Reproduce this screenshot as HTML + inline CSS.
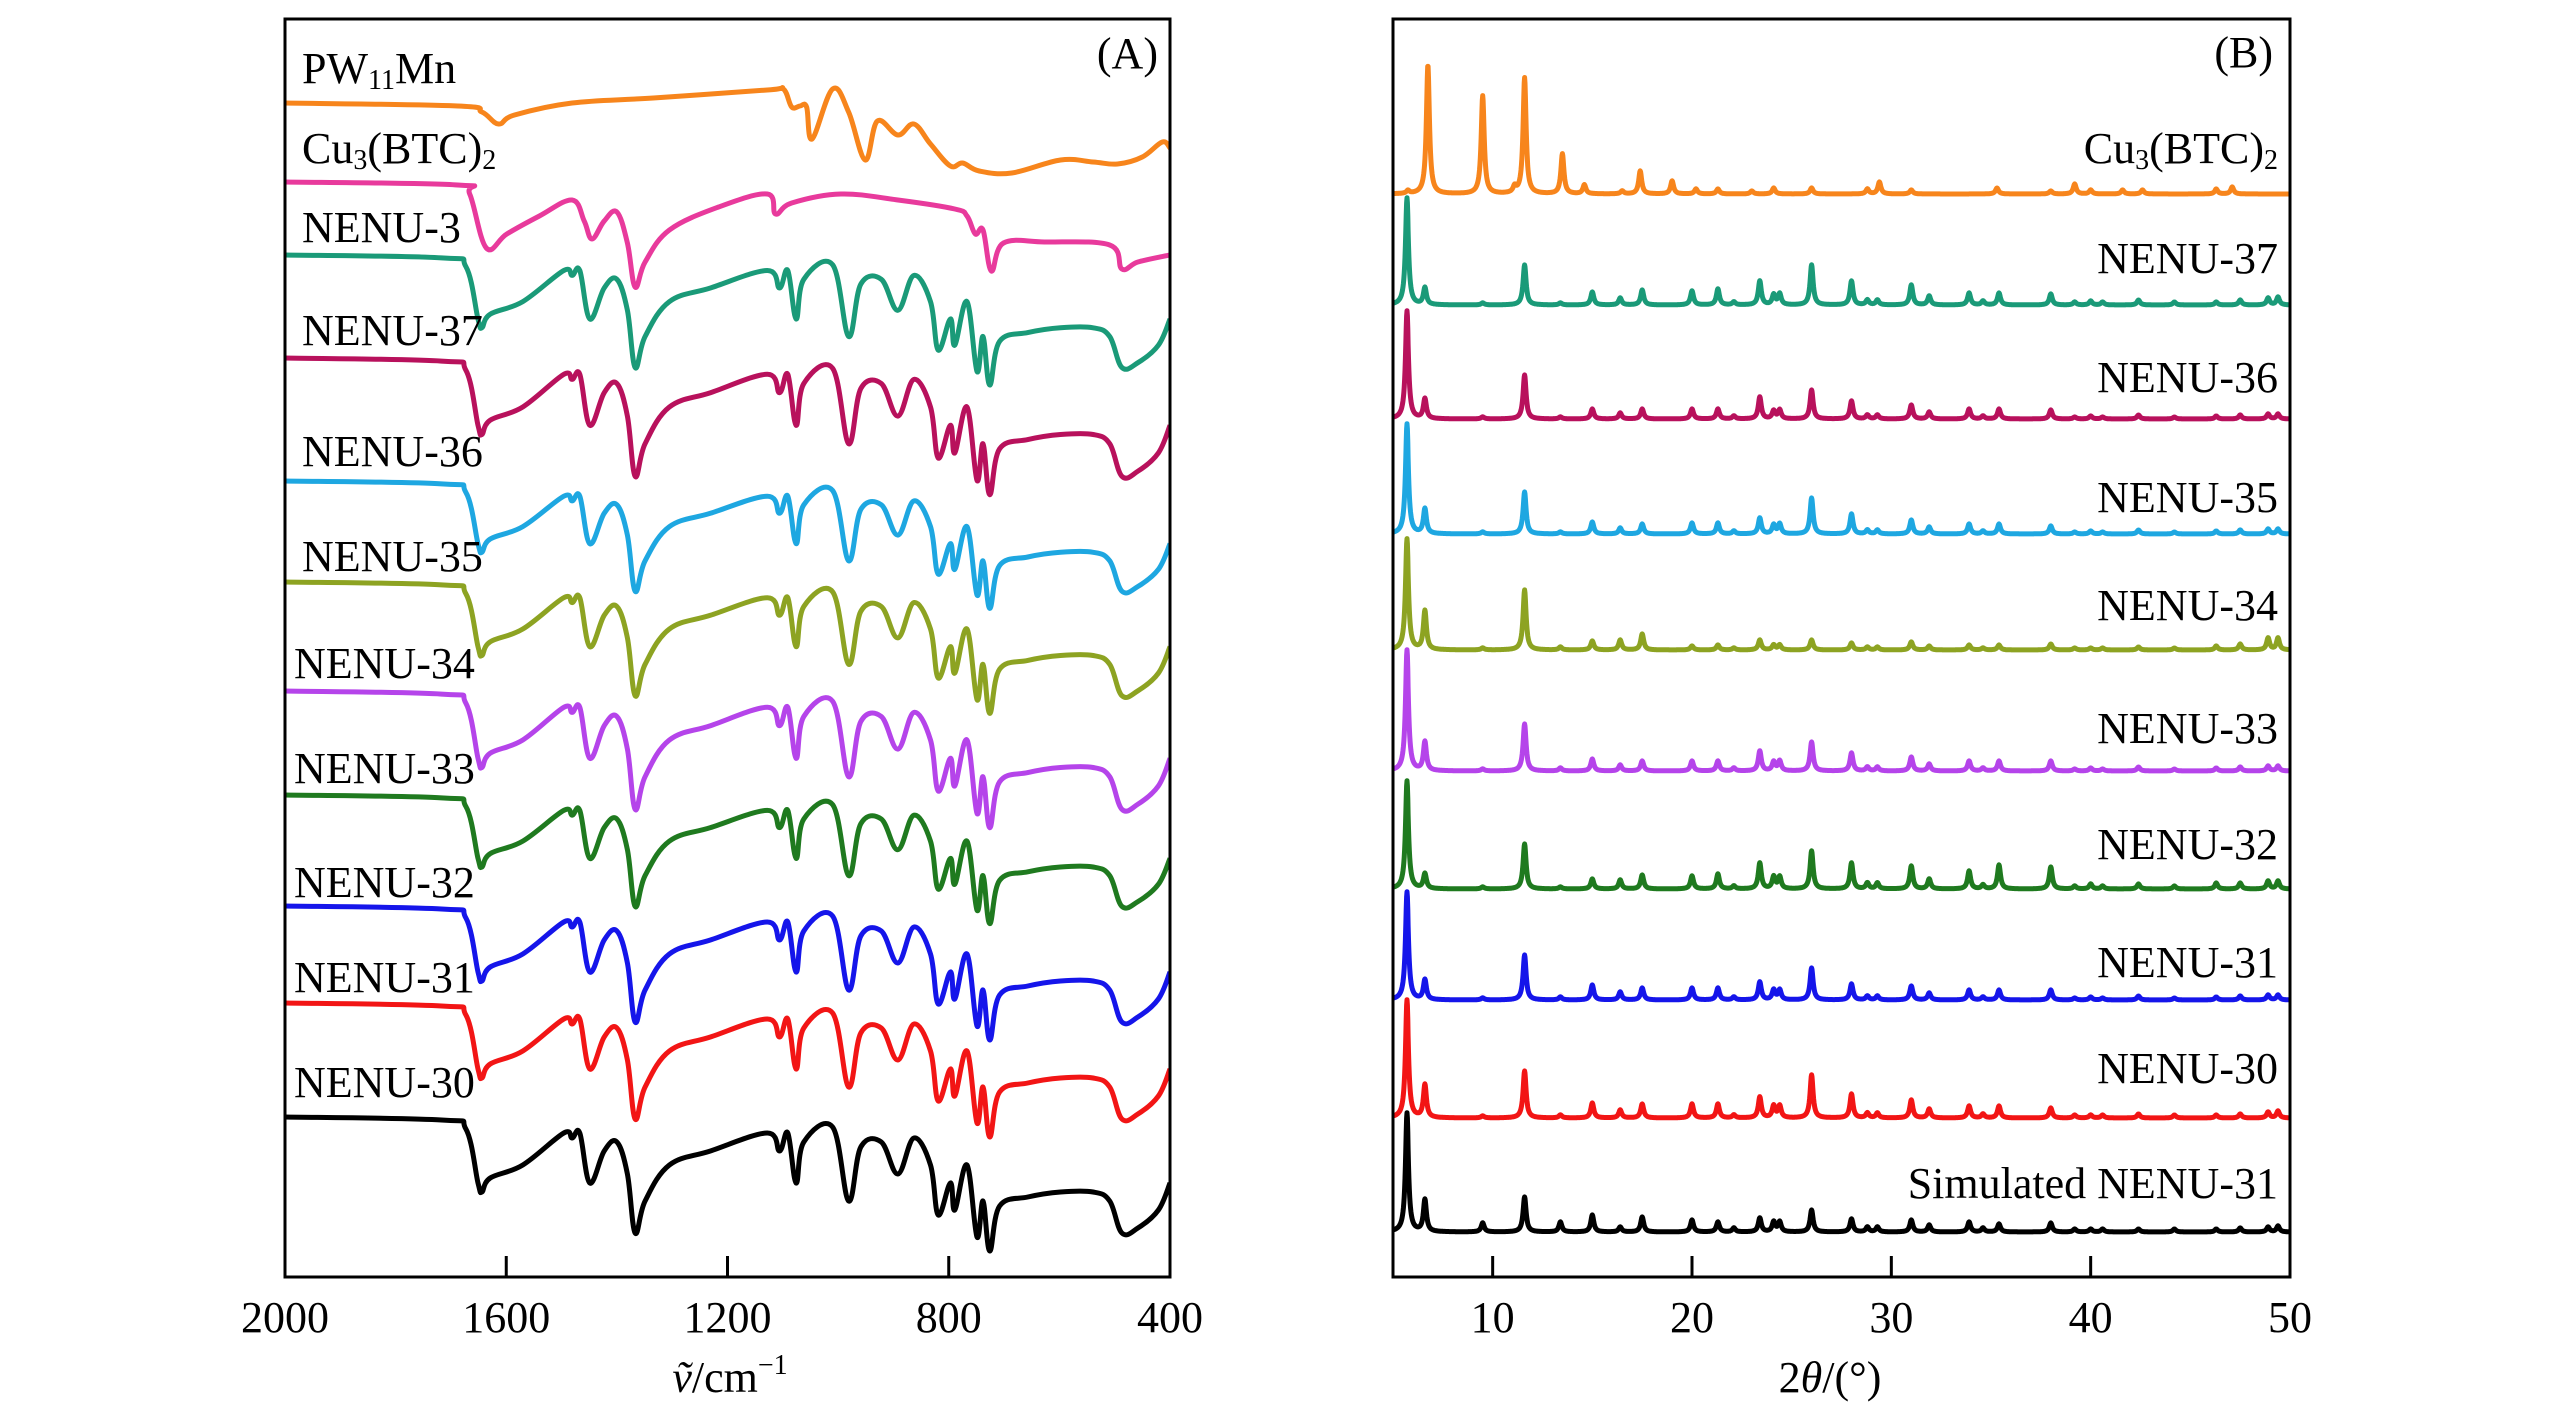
<!DOCTYPE html>
<html><head><meta charset="utf-8"><title>IR and XRD</title>
<style>
html,body{margin:0;padding:0;background:#fff;}
svg{display:block;}
text{font-family:"Liberation Serif","DejaVu Serif",serif;fill:#000;}
</style></head>
<body>
<svg id="fig" width="2567" height="1417" viewBox="0 0 2567 1417" xmlns="http://www.w3.org/2000/svg">
<rect x="0" y="0" width="2567" height="1417" fill="#fff"/>
<g id="panelA"></g>
<g id="panelB"></g>
</svg>
<script>
// ---------- Panel A data (IR) ----------
const irTicks = [2000, 1600, 1200, 800, 400];
const nenuWn = [2000,1717,1673,1651,1644,1629,1570,1496,1481,1467,1449,1423,1400,1381,1367,1349,1305,1231,1128,1106,1091,1076,1062,1010,981,959,922,892,863,833,819,797,789,767,749,738,726,708,657,598,539,509,487,458,421,400];
const nenuDepth = [0,3,12,66,75,61,48,16,21,16,66,34,25,57,116,84,48,34,16,34,16,66,25,10,84,30,25,57,21,48,98,66,93,48,120,84,134,89,80,75,75,84,116,111,93,66];
const nenu3Wn = [2000,1688,1666,1636,1599,1540,1481,1459,1445,1423,1400,1381,1367,1349,1305,1216,1128,1113,1084,995,892,789,767,752,738,723,701,627,509,487,458,400];
const nenu3Depth = [0,3,12,66,52,34,18,39,57,39,30,61,105,80,48,25,12,32,21,12,18,27,34,52,48,89,61,60,63,87,80,73];
const pwWn = [2000,1688,1644,1614,1585,1481,1334,1128,1099,1084,1069,1057,1047,1010,981,951,929,892,863,833,797,775,745,686,598,539,495,450,414,400];
const pwDepth = [0,3,9,21,12,0,-5,-13,-14,4,3,4,36,-14,9,57,18,32,21,41,63,60,68,70,57,59,61,54,39,45];
const irNenuNames = ["NENU-37","NENU-36","NENU-35","NENU-34","NENU-33","NENU-32","NENU-31","NENU-30","NENU-30-black"];
const irNenuOffsets = [236,339,462,563,672,776,887,984,1098];
const irNenuScale = [0.97,1.02,0.95,0.98,1.02,0.96,1.0,1.0,1.0];
const irPwOffset = 84;
const irNenu3Offset = 163;

// ---------- Panel B data (XRD) ----------
const xrdTicks = [10,20,30,40,50];
const nenuPeaks = [5.7,6.6,9.5,11.6,13.4,15.0,16.4,17.5,20.0,21.3,22.1,23.4,24.1,24.4,26.0,28.0,28.8,29.3,31.0,31.9,33.9,34.6,35.4,38.0,39.2,40.0,40.6,42.4,44.2,46.3,47.5,48.9,49.4];
const hTeal    = [107,17,2,40,2,13,7,15,14,16,3,24,10,11,40,24,5,5,20,9,12,4,12,11,3,4,3,5,3,3,5,7,8];
const hCrimson = [108,20,2,44,2,10,6,10,10,10,3,22,8,9,29,18,4,4,14,7,10,3,10,9,2,3,2,4,2,3,4,5,5];
const hSky     = [110,25,2,42,2,12,6,10,11,11,3,16,9,10,36,20,4,4,14,7,10,3,10,8,2,3,2,4,2,3,4,5,5];
const hOlive   = [111,39,2,60,3,9,10,16,4,5,2,10,5,5,10,7,3,3,8,4,5,2,5,6,2,2,2,3,2,4,6,12,12];
const hPurple  = [121,29,2,47,3,12,6,10,10,10,3,20,9,10,29,18,4,4,14,7,10,3,10,10,2,3,2,4,2,3,4,5,5];
const hGreen   = [108,15,2,45,2,10,9,14,13,15,3,26,12,12,38,26,6,6,23,10,18,4,24,22,3,5,3,5,3,6,6,8,8];
const hBlue    = [108,20,2,45,3,15,8,12,12,12,3,18,10,10,32,16,4,4,14,7,10,3,10,10,2,3,2,4,2,3,4,5,5];
const hRed     = [118,33,2,47,3,15,8,14,14,14,3,21,12,12,43,24,5,5,18,9,12,4,12,10,3,3,3,4,3,3,4,6,7];
const hBlack   = [119,32,9,35,10,17,5,15,12,10,4,14,10,10,22,13,5,5,12,7,10,4,8,9,3,3,3,3,3,3,4,5,6];
const cuPeaks   = [5.75,6.75,9.5,11.1,11.6,13.5,14.6,16.5,17.4,19.0,20.2,21.3,23.0,24.1,26.0,28.8,29.4,31.0,35.3,38.0,39.2,40.0,41.6,42.6,46.3,47.1];
const cuHeights = [3,129,98,6,116,40,9,3,23,13,5,5,3,6,6,5,12,4,6,3,10,4,4,4,5,7];
const xrdNames = ["Cu3(BTC)2","NENU-37","NENU-36","NENU-35","NENU-34","NENU-33","NENU-32","NENU-31","NENU-30","Simulated NENU-31"];
const xrdBaselines = [175,286,400,515,631,752,870,981,1099,1213];

// ---------- helpers ----------
const NS = "http://www.w3.org/2000/svg";
function mk(tag, attrs, parent){const e=document.createElementNS(NS,tag);for(const k in attrs)e.setAttribute(k,attrs[k]);parent.appendChild(e);return e;}

const A = {l:285,r:1170,t:19,b:1277};
const xA = wn => A.l + (2000-wn)/1600*(A.r-A.l);
const yA = v => A.t + v;
const B = {l:1393,r:2290,t:19,b:1277};
const xB = t => B.l + (t-5)/45*(B.r-B.l);
const yB = v => B.t + v;

const gA = document.getElementById('panelA');
const gB = document.getElementById('panelB');
const ca = mk('clipPath',{id:'clipA'},gA);
mk('rect',{x:A.l,y:A.t,width:A.r-A.l,height:A.b-A.t},ca);
const cb = mk('clipPath',{id:'clipB'},gB);
mk('rect',{x:B.l,y:B.t,width:B.r-B.l,height:B.b-B.t},cb);

function irPath(wns, depths, off, scale){
  const pts = wns.map((w,i)=>[xA(w), yA(off+depths[i]*scale)]);
  let d='M'+pts[0][0].toFixed(1)+','+pts[0][1].toFixed(1);
  const k=0.18;
  for(let i=0;i<pts.length-1;i++){
    const p0=pts[Math.max(0,i-1)], p1=pts[i], p2=pts[i+1], p3=pts[Math.min(pts.length-1,i+2)];
    const c1=[p1[0]+(p2[0]-p0[0])*k, p1[1]+(p2[1]-p0[1])*k];
    const c2=[p2[0]-(p3[0]-p1[0])*k, p2[1]-(p3[1]-p1[1])*k];
    d+='C'+c1[0].toFixed(1)+','+c1[1].toFixed(1)+' '+c2[0].toFixed(1)+','+c2[1].toFixed(1)+' '+p2[0].toFixed(1)+','+p2[1].toFixed(1);
  }
  return d;
}
const irColors = ['#1a9a78','#b8115c','#1ea7e1','#8da322','#b544ea','#1f7a1f','#1515ea','#f21515','#000000'];
const tracesA = mk('g',{'clip-path':'url(#clipA)'},gA);


let p = mk('path',{d:irPath(pwWn,pwDepth,irPwOffset,1),fill:'none',stroke:'#f7851c','stroke-width':5,'stroke-linejoin':'round'},tracesA);


p = mk('path',{d:irPath(nenu3Wn,nenu3Depth,irNenu3Offset,1),fill:'none',stroke:'#e83a9c','stroke-width':5,'stroke-linejoin':'round'},tracesA);


for(let i=0;i<irNenuOffsets.length;i++){
  const e = mk('path',{d:irPath(nenuWn,nenuDepth,irNenuOffsets[i],irNenuScale[i]),fill:'none',stroke:irColors[i],'stroke-width':5,'stroke-linejoin':'round'},tracesA);
  
  
}
let fr = mk('rect',{x:A.l,y:A.t,width:A.r-A.l,height:A.b-A.t,fill:'none',stroke:'#000','stroke-width':3},gA);


irTicks.forEach(t=>{
  const x=xA(t);
  if(t!==2000 && t!==400){
    const tk=mk('line',{x1:x,x2:x,y1:A.b,y2:A.b-21,stroke:'#000','stroke-width':3},gA);
    
    
  }
  const lb=mk('text',{x:x,y:1332,'text-anchor':'middle','font-size':44},gA);
  lb.textContent=t;
  
  
});

function label(g,x,y,anchor,parts,name){
  const t=mk('text',{x:x,y:y,'text-anchor':anchor,'font-size':44},g);
  parts.forEach(pt=>{
    const s=document.createElementNS(NS,'tspan');
    if(pt[1]){s.setAttribute('font-size',28);s.setAttribute('dy',pt[2]);}
    else if(pt[2]){s.setAttribute('dy',pt[2]);}
    s.textContent=pt[0];t.appendChild(s);
  });
  
  
  return t;
}
label(gA,302,83,'start',[['PW'],['11',1,6],['Mn',0,-6]],'label-pw11mn');
label(gA,302,163,'start',[['Cu'],['3',1,6],['(BTC)',0,-6],['2',1,6]],'label-cu3btc2');
const aLabels=[['NENU-3',302,242],['NENU-37',302,345],['NENU-36',302,466],['NENU-35',302,571],['NENU-34',294,678],['NENU-33',294,783],['NENU-32',294,897],['NENU-31',294,992],['NENU-30',294,1097]];
aLabels.forEach(l=>label(gA,l[1],l[2],'start',[[l[0]]],'ir-label-'+l[0].toLowerCase()));
label(gA,1158,68,'end',[['(A)']],'panel-a-tag');
let xt=mk('text',{x:730,y:1392,'text-anchor':'middle','font-size':44},gA);
xt.innerHTML='<tspan font-style="italic">ṽ</tspan>/cm<tspan font-size="28" dy="-18">−1</tspan>';



function xrdPath(peaks, heights, base){
  let d='';
  for(let t=5;t<=50.001;t+=0.02){
    let v=0;
    for(let i=0;i<peaks.length;i++){
      const z=(t-peaks[i])/0.09;
      v+=heights[i]/(1+z*z);
    }
    d+=(t===5?'M':'L')+xB(t).toFixed(1)+','+yB(base-v).toFixed(1);
  }
  return d;
}
const tracesB = mk('g',{'clip-path':'url(#clipB)'},gB);


const xrdColors=['#f7851c','#1a9a78','#b8115c','#1ea7e1','#8da322','#b544ea','#1f7a1f','#1515ea','#f21515','#000000'];
const xrdHeights=[cuHeights,hTeal,hCrimson,hSky,hOlive,hPurple,hGreen,hBlue,hRed,hBlack];
for(let i=0;i<xrdNames.length;i++){
  const pk = i===0?cuPeaks:nenuPeaks;
  const e=mk('path',{d:xrdPath(pk,xrdHeights[i],xrdBaselines[i]),fill:'none',stroke:xrdColors[i],'stroke-width':5,'stroke-linejoin':'round'},tracesB);
  
  
}
fr = mk('rect',{x:B.l,y:B.t,width:B.r-B.l,height:B.b-B.t,fill:'none',stroke:'#000','stroke-width':3},gB);


xrdTicks.forEach(t=>{
  const x=xB(t);
  if(t!==50){
    const tk=mk('line',{x1:x,x2:x,y1:B.b,y2:B.b-21,stroke:'#000','stroke-width':3},gB);
    
    
  }
  const lb=mk('text',{x:x,y:1332,'text-anchor':'middle','font-size':44},gB);
  lb.textContent=t;
  
  
});
label(gB,2278,163,'end',[['Cu'],['3',1,6],['(BTC)',0,-6],['2',1,6]],'xrd-label-cu3btc2');
const bLabels=[['NENU-37',273],['NENU-36',392],['NENU-35',512],['NENU-34',620],['NENU-33',743],['NENU-32',859],['NENU-31',977],['NENU-30',1083],['Simulated NENU-31',1198]];
bLabels.forEach(l=>label(gB,2278,l[1],'end',[[l[0]]],'xrd-label-'+l[0].toLowerCase().replace(/ /g,'-')));
label(gB,2273,67,'end',[['(B)']],'panel-b-tag');
xt=mk('text',{x:1830,y:1392,'text-anchor':'middle','font-size':44},gB);
xt.innerHTML='2<tspan font-style="italic">θ</tspan>/(°)';


</script>
</body></html>
